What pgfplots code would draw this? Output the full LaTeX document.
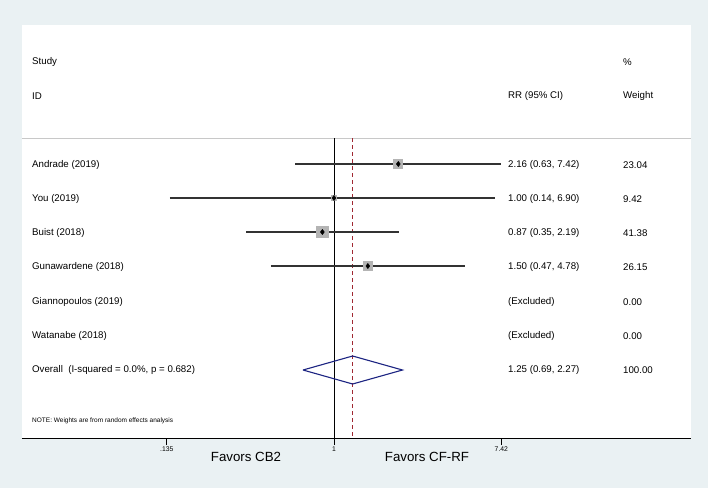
\documentclass[border=0pt]{standalone}
\usepackage{fontspec}
\setmainfont{Liberation Sans}
\usepackage{pgfplots}
\pgfplotsset{compat=1.18}
\definecolor{bgc}{RGB}{234,241,243}
\definecolor{sepc}{RGB}{200,200,200}
\definecolor{boxc}{RGB}{180,180,180}
\definecolor{navyc}{RGB}{28,36,130}
\definecolor{redc}{RGB}{160,40,50}
\definecolor{cic}{RGB}{50,50,50}
\newcommand{\rowfont}{\fontsize{9.7}{11}\selectfont}
\begin{document}
\begin{tikzpicture}
\fill[bgc] (0,0) rectangle (708pt,488pt);
\begin{axis}[
  at={(22pt,50pt)}, anchor=south west,
  scale only axis, width=669pt, height=413pt,
  xmode=log, xmin=0.02384, xmax=71.9,
  ymin=25, ymax=438, y dir=reverse,
  axis background/.style={fill=white},
  axis x line*=bottom, axis y line=none,
  x axis line style={-, black, line width=0.8pt},
  xtick={0.135,1,7.42}, xticklabels={.135,1,7.42},
  xminorticks=false, minor xtick={},
  tick align=outside, major tick length=7pt,
  xtick style={black, line width=0.8pt},
  /pgf/number format/assume math mode=true,
  xticklabel style={font=\fontsize{6.8}{7}\selectfont, anchor=north, yshift=2pt},
  clip=false,
]
% separator
\addplot[sepc, line width=0.8pt] coordinates {(0.02384,138) (71.9,138)};
% reference lines
\addplot[black, line width=0.8pt] coordinates {(1,138) (1,438)};
\addplot[redc, line width=0.7pt, dash pattern=on 4pt off 3pt] coordinates {(1.25,138) (1.25,438)};
% weight boxes
\addplot[boxc, only marks, mark=square*, mark size=4.45pt, mark options={fill=boxc, draw=boxc, line width=0pt}] coordinates {(2.16,164)};
\addplot[boxc, only marks, mark=square*, mark size=2.8pt, mark options={fill=boxc, draw=boxc, line width=0pt}] coordinates {(1.00,198)};
\addplot[boxc, only marks, mark=square*, mark size=5.85pt, mark options={fill=boxc, draw=boxc, line width=0pt}] coordinates {(0.87,232)};
\addplot[boxc, only marks, mark=square*, mark size=4.65pt, mark options={fill=boxc, draw=boxc, line width=0pt}] coordinates {(1.50,266)};
% CIs
\addplot[cic, line width=1.3pt] coordinates {(0.63,164) (7.42,164)};
\addplot[cic, line width=1.3pt] coordinates {(0.14,198) (6.90,198)};
\addplot[cic, line width=1.3pt] coordinates {(0.35,232) (2.19,232)};
\addplot[cic, line width=1.3pt] coordinates {(0.47,266) (4.78,266)};
% point estimates
\addplot[black, only marks, mark=diamond*, mark size=2.6pt, mark options={fill=black, draw=black}] coordinates {(2.16,164) (1.00,198) (0.87,232) (1.50,266)};
% overall diamond
\addplot[navyc, line width=1.1pt] coordinates {(0.69,370) (1.25,356) (2.27,370) (1.25,384) (0.69,370)};
% favors labels
\node[font=\fontsize{13.3}{15}\selectfont] at (axis cs:0.3486,457) {Favors CB2};
\node[font=\fontsize{13.3}{15}\selectfont] at (axis cs:3.046,457) {Favors CF-RF};
\end{axis}
\begin{scope}[every node/.style={anchor=west, inner sep=0pt, font=\rowfont}]
\node at (32pt,{(488-62)*1pt}) {Study};
\node at (32pt,{(488-96)*1pt}) {ID};
\node at (508pt,{(488-96)*1pt}) {RR (95\% CI)};
\node at (623pt,{(488-62)*1pt}) {\%};
\node at (623pt,{(488-96)*1pt}) {Weight};
\node at (32pt,{(488-165)*1pt}) {Andrade (2019)};
\node at (508pt,{(488-165)*1pt}) {2.16 (0.63, 7.42)};
\node at (623pt,{(488-165)*1pt}) {23.04};
\node at (32pt,{(488-199)*1pt}) {You (2019)};
\node at (508pt,{(488-199)*1pt}) {1.00 (0.14, 6.90)};
\node at (623pt,{(488-199)*1pt}) {9.42};
\node at (32pt,{(488-233)*1pt}) {Buist (2018)};
\node at (508pt,{(488-233)*1pt}) {0.87 (0.35, 2.19)};
\node at (623pt,{(488-233)*1pt}) {41.38};
\node at (32pt,{(488-267)*1pt}) {Gunawardene (2018)};
\node at (508pt,{(488-267)*1pt}) {1.50 (0.47, 4.78)};
\node at (623pt,{(488-267)*1pt}) {26.15};
\node at (32pt,{(488-302)*1pt}) {Giannopoulos (2019)};
\node at (508pt,{(488-302)*1pt}) {(Excluded)};
\node at (623pt,{(488-302)*1pt}) {0.00};
\node at (32pt,{(488-336)*1pt}) {Watanabe (2018)};
\node at (508pt,{(488-336)*1pt}) {(Excluded)};
\node at (623pt,{(488-336)*1pt}) {0.00};
\node at (32pt,{(488-370)*1pt}) {Overall\ \ (I-squared = 0.0\%, p = 0.682)};
\node at (508pt,{(488-370)*1pt}) {1.25 (0.69, 2.27)};
\node at (623pt,{(488-370)*1pt}) {100.00};
\node[font=\fontsize{6.5}{8}\selectfont] at (32pt,{(488-421)*1pt}) {NOTE: Weights are from random effects analysis};
\end{scope}
\end{tikzpicture}
\end{document}
